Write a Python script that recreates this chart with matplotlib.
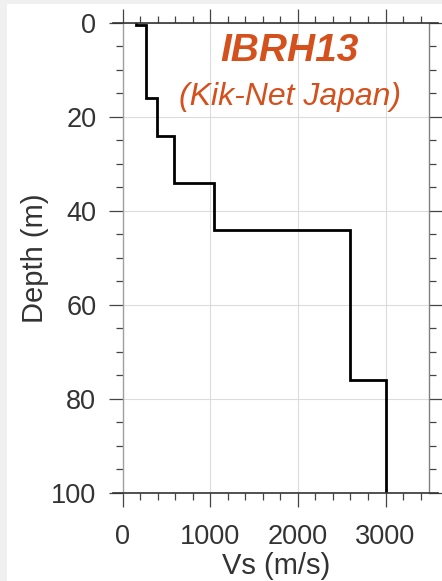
import matplotlib.pyplot as plt
from matplotlib.patches import Rectangle
from matplotlib.ticker import MultipleLocator

plt.rcParams['font.family'] = ['Liberation Sans', 'DejaVu Sans']

# shear wave velocity profile, layer tops in m and velocity in m/s
layer_top = [0, 0.5, 16, 24, 34, 44, 76]
vs = [150, 270, 390, 590, 1040, 2600, 3000]
max_depth = 100

site_name = "IBRH13"
network = "(Kik-Net Japan)"

# turn the layers into a step line
bottoms = layer_top[1:] + [max_depth]
xs, ys = [], []
for v, top, bot in zip(vs, layer_top, bottoms):
    xs += [v, v]
    ys += [top, bot]

fig = plt.figure(figsize=(4.42, 5.81), dpi=100)
fig.patch.set_facecolor('#f0f0f0')
fig.add_artist(Rectangle((7 / 442, 0), 435 / 442, 577 / 581,
                         transform=fig.transFigure, facecolor='white',
                         edgecolor='none', zorder=-1))

ax = fig.add_axes([0.2776, 0.1515, 0.6937, 0.8094])
ax.plot(xs, ys, color='black', lw=2.0, solid_joinstyle='miter')

ax.set_xlim(0, 3500)
ax.set_ylim(max_depth, 0)
ax.xaxis.set_major_locator(MultipleLocator(1000))
ax.xaxis.set_minor_locator(MultipleLocator(200))
ax.yaxis.set_major_locator(MultipleLocator(20))
ax.yaxis.set_minor_locator(MultipleLocator(5))

ax.grid(True, which='major', color='#dcdcdc', lw=0.8)
ax.set_axisbelow(True)

ax.tick_params(which='both', direction='out', top=True, right=True,
               labeltop=False, labelright=False, color='#444444',
               labelcolor='#333333', labelsize=19.5, width=0.9)
ax.tick_params(which='major', length=10)
ax.tick_params(which='minor', length=5)
ax.tick_params(axis='x', which='major', pad=12)
ax.tick_params(axis='y', which='major', pad=9)

for side in ['top', 'bottom']:
    ax.spines[side].set_bounds(-110, 3600)
    ax.spines[side].set_color('#333333')
    ax.spines[side].set_linewidth(1.2)
ax.spines['left'].set_color('#a0a0a0')
ax.spines['right'].set_color('#808080')
ax.spines['left'].set_linewidth(1.0)
ax.spines['right'].set_linewidth(1.0)

ax.set_xlabel('Vs (m/s)', fontsize=21, color='#333333', labelpad=2)
ax.set_ylabel('Depth (m)', fontsize=21, color='#333333', labelpad=1.5)

ax.text(0.545, 0.978, site_name, transform=ax.transAxes, ha='center',
        va='top', fontsize=28, fontweight='bold', fontstyle='italic',
        color='#d4501c')
ax.text(0.545, 0.874, network, transform=ax.transAxes, ha='center',
        va='top', fontsize=23, fontstyle='italic', color='#d4501c')

fig.savefig('out.png', dpi=100, facecolor=fig.get_facecolor())
